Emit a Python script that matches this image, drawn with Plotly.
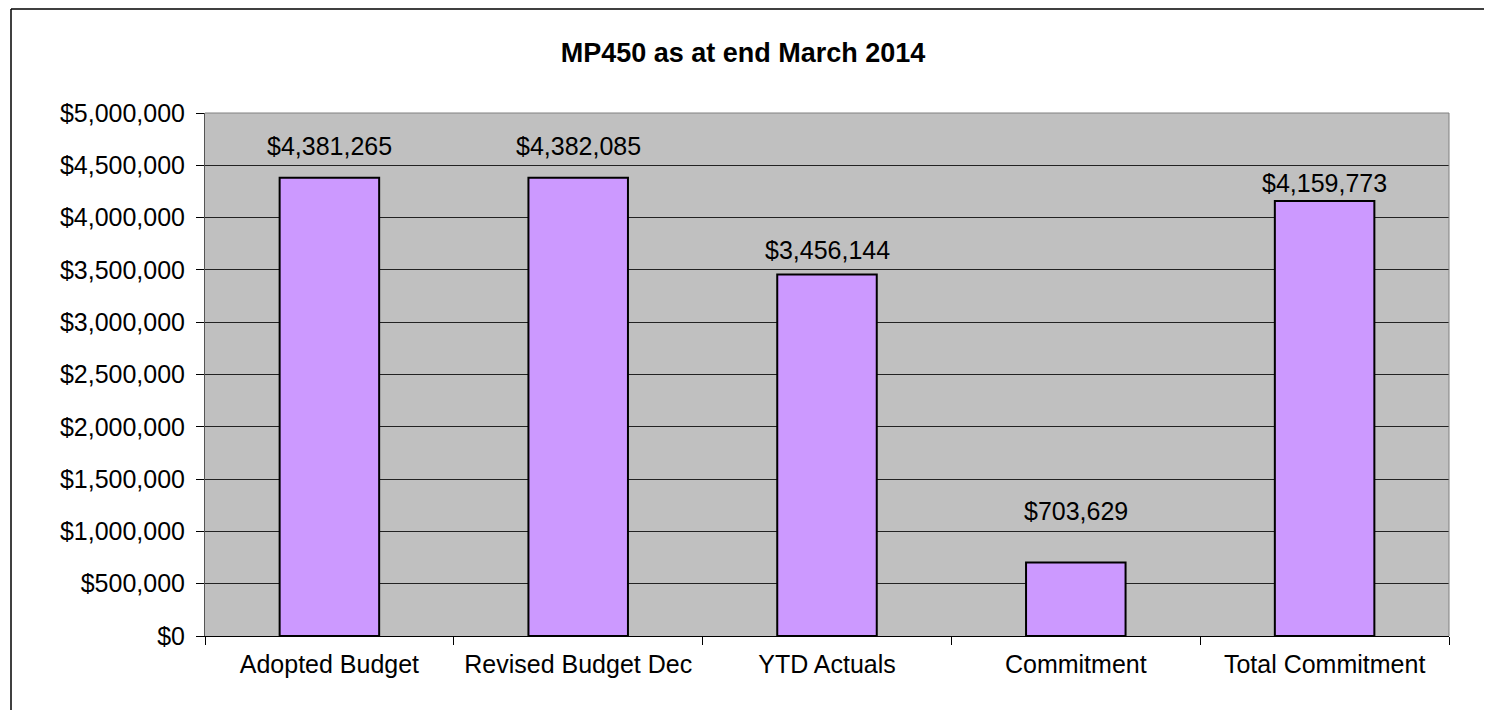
import plotly.graph_objects as go

categorias = ["Adopted Budget", "Revised Budget Dec", "YTD Actuals", "Commitment", "Total Commitment"]
valores = [4381265, 4382085, 3456144, 703629, 4159773]
titulo = "MP450 as at end March 2014"

# distância (px) entre o topo da barra e o centro do rótulo, como no original
desloc_rotulos = [32, 32, 24, 51, 18]

# a página tem margem de 8px no body, então o tamanho é reduzido
W, H = 1476, 702

fig = go.Figure()

fig.add_trace(go.Bar(
    x=categorias,
    y=valores,
    marker=dict(color="#CC99FF", line=dict(color="black", width=2)),
    hoverinfo="x+y",
))

for cat, val, dy in zip(categorias, valores, desloc_rotulos):
    fig.add_annotation(x=cat, y=val, text=f"${val:,}", showarrow=False,
                       yanchor="middle", yshift=dy, font=dict(size=25, color="black"))

# moldura externa (só topo e esquerda aparecem no original)
x_esq = (11 - 205) / 1244
y_topo = 1 + 104 / 523

fig.update_layout(
    title=dict(text="<b>" + titulo + "</b>", x=0.498, xref="container", y=0.937, yref="container",
               xanchor="center", yanchor="middle", font=dict(size=27, color="black")),
    font=dict(family="Liberation Sans, Arial, sans-serif", size=25, color="black"),
    width=W, height=H,
    margin=dict(l=197, r=35, t=105, b=74),
    paper_bgcolor="white",
    plot_bgcolor="#C0C0C0",
    bargap=0.6,
    showlegend=False,
    xaxis=dict(tickson="boundaries", ticks="outside", ticklen=8, tickcolor="black",
               ticklabelstandoff=6,
               showgrid=False, showline=True, linecolor="black", linewidth=1),
    yaxis=dict(range=[0, 5000000], dtick=500000, tickprefix="$", tickformat=",",
               ticks="outside", ticklen=8, tickcolor="black", ticklabelstandoff=6,
               showgrid=True, gridcolor="#222222", gridwidth=1,
               showline=True, linecolor="#555555", linewidth=1, zeroline=False),
    shapes=[
        # borda cinza do plot (topo e direita)
        dict(type="line", xref="paper", yref="paper", x0=0, x1=1, y0=1, y1=1,
             line=dict(color="#808080", width=1)),
        dict(type="line", xref="paper", yref="paper", x0=1, x1=1, y0=0, y1=1,
             line=dict(color="#808080", width=1)),
        dict(type="line", xref="paper", yref="paper", x0=x_esq, x1=1.3, y0=y_topo, y1=y_topo,
             line=dict(color="black", width=1.5), layer="below"),
        dict(type="line", xref="paper", yref="paper", x0=x_esq, x1=x_esq, y0=-0.5, y1=y_topo,
             line=dict(color="black", width=1.5), layer="below"),
    ],
)

fig.write_html("out.html")
